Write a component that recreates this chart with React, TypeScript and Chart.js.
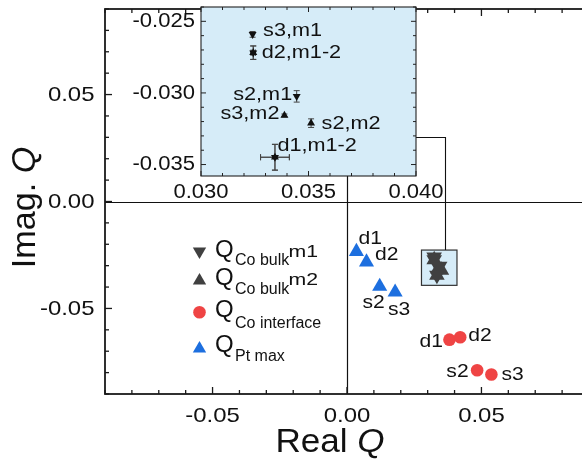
import React, { useEffect, useRef } from "react";
import { Chart, registerables } from "chart.js";

Chart.register(...registerables);

const FONT = '"Liberation Sans", Arial, Helvetica, sans-serif';

// ---------- data ----------
// Co bulk (inset) – samples in order
const bulkSamples = ["s3", "s2", "d2", "d1"];
const bulkM1Real = [0.0324, 0.03445, 0.03243, 0.03344];
const bulkM1Imag = [-0.02591, -0.03024, -0.02719, -0.03449];
const bulkM1RealErr = [0, 0, 0.0001, 0.00067];
const bulkM1ImagErr = [0.0002, 0.0004, 0.00047, 0.0009];
const bulkM2Real = [0.03388, 0.03512, 0.03243, 0.03344];
const bulkM2Imag = [-0.03157, -0.03211, -0.02719, -0.03449];
const bulkM2RealErr = [0, 0, 0.0001, 0.00067];
const bulkM2ImagErr = [0.0001, 0.0003, 0.00047, 0.0009];
const insetLabelsM1 = ["s3,m1", "s2,m1", "d2,m1-2", "d1,m1-2"];
const insetLabelsM2 = ["s3,m2", "s2,m2", "", ""];

// Pt max
const ptLabels = ["d1", "d2", "s2", "s3"];
const ptReal = [0.0035, 0.00725, 0.01216, 0.0179];
const ptImag = [-0.0234, -0.0283, -0.0397, -0.0424];

// Co interface
const ifaceLabels = ["d1", "d2", "s2", "s3"];
const ifaceReal = [0.0381, 0.0421, 0.0484, 0.0537];
const ifaceImag = [-0.0646, -0.0635, -0.0789, -0.0809];

// ticks
const mainTicks = [-0.05, 0, 0.05];
const mainTickLabels = ["-0.05", "0.00", "0.05"];
const insetXTicks = [0.03, 0.035, 0.04];
const insetXTickLabels = ["0.030", "0.035", "0.040"];
const insetYTicks = [-0.025, -0.03, -0.035];
const insetYTickLabels = ["-0.025", "-0.030", "-0.035"];

// legend
const legendSubs = ["Co bulk", "Co bulk", "Co interface", "Pt max"];
const legendSups = ["m1", "m2", "", ""];

// zoom box region in main axes and connector
const zoomBox = { x0: 0.0277, x1: 0.0409, y0: -0.0392, y1: -0.0227 };

// ---------- styles ----------
const GRAY = "#404040";
const RED = "#ef4444";
const BLUE = "#1d6fdf";
const INSET_BG = "#d6ecf8";
const AXIS = "#1a1a1a";

// label placement offsets (px) relative to points
const ptLabelPos: [number, number, "left" | "right" | "center"][] = [
  [2, -13, "left"],
  [8.5, -7, "left"],
  [-6, 16.5, "center"],
  [4, 18, "center"],
];
const ifaceLabelPos: [number, number, "left" | "right" | "center"][] = [
  [-6.5, 2, "right"],
  [8, -1.5, "left"],
  [-8.5, 2, "right"],
  [10, 0, "left"],
];
const insetM1Pos: [number, number, "left" | "right" | "center"][] = [
  [10.5, -3, "left"],
  [-4.5, -1.5, "right"],
  [8.5, 0, "left"],
  [2.5, -11, "left"],
];
const insetM2Pos: [number, number, "left" | "right" | "center"][] = [
  [-5, -1.5, "right"],
  [10.5, 1, "left"],
  [0, 0, "left"],
  [0, 0, "left"],
];

type Align = "left" | "right" | "center";

function drawRuns(
  ctx: CanvasRenderingContext2D,
  runs: { t: string; italic?: boolean }[],
  x: number,
  y: number,
  size: number,
  align: Align = "left",
  sx = 1,
  baseline: CanvasTextBaseline = "alphabetic",
  rot = 0,
  color = "#111"
) {
  ctx.save();
  ctx.textBaseline = baseline;
  ctx.textAlign = "left";
  ctx.fillStyle = color;
  const widths = runs.map((r) => {
    ctx.font = `${r.italic ? "italic " : ""}${size}px ${FONT}`;
    return ctx.measureText(r.t).width * sx;
  });
  const total = widths.reduce((a, b) => a + b, 0);
  const off = align === "right" ? -total : align === "center" ? -total / 2 : 0;
  ctx.translate(x, y);
  if (rot) ctx.rotate(rot);
  ctx.translate(off, 0);
  let cx = 0;
  runs.forEach((r, i) => {
    ctx.save();
    ctx.font = `${r.italic ? "italic " : ""}${size}px ${FONT}`;
    ctx.translate(cx, 0);
    ctx.scale(sx, 1);
    ctx.fillText(r.t, 0, 0);
    ctx.restore();
    cx += widths[i];
  });
  ctx.restore();
  return total;
}

function txt(
  ctx: CanvasRenderingContext2D,
  s: string,
  x: number,
  y: number,
  size: number,
  align: Align = "left",
  sx = 1,
  baseline: CanvasTextBaseline = "alphabetic"
) {
  return drawRuns(ctx, [{ t: s }], x, y, size, align, sx, baseline);
}

function tri(ctx: CanvasRenderingContext2D, x: number, y: number, r: number, down: boolean, color: string) {
  const s = down ? -1 : 1;
  ctx.beginPath();
  ctx.moveTo(x, y - s * r);
  ctx.lineTo(x + r * 0.866, y + (s * r) / 2);
  ctx.lineTo(x - r * 0.866, y + (s * r) / 2);
  ctx.closePath();
  ctx.fillStyle = color;
  ctx.fill();
}

function line(ctx: CanvasRenderingContext2D, x0: number, y0: number, x1: number, y1: number) {
  ctx.beginPath();
  ctx.moveTo(x0, y0);
  ctx.lineTo(x1, y1);
  ctx.stroke();
}

const pts = (xs: number[], ys: number[]) => xs.map((x, i) => ({ x, y: ys[i] }));

const mainPlugin = {
  id: "mainDecor",
  beforeDatasetsDraw(chart: any) {
    const ctx: CanvasRenderingContext2D = chart.ctx;
    const { left, right, top, bottom } = chart.chartArea;
    const xs = chart.scales.x;
    const ys = chart.scales.y;
    ctx.save();
    ctx.strokeStyle = "#111";
    ctx.lineWidth = 1.2;
    const x0 = Math.round(xs.getPixelForValue(0)) + 0.5;
    const y0 = Math.round(ys.getPixelForValue(0)) + 0.5;
    line(ctx, left, y0, right, y0);
    line(ctx, x0, top, x0, bottom);
    // zoom box
    const bx0 = xs.getPixelForValue(zoomBox.x0);
    const bx1 = xs.getPixelForValue(zoomBox.x1);
    const by0 = ys.getPixelForValue(zoomBox.y1);
    const by1 = ys.getPixelForValue(zoomBox.y0);
    ctx.fillStyle = INSET_BG;
    ctx.fillRect(bx0, by0, bx1 - bx0, by1 - by0);
    ctx.strokeStyle = "#333";
    ctx.lineWidth = 1.2;
    ctx.strokeRect(bx0, by0, bx1 - bx0, by1 - by0);
    // connector
    const cxp = Math.round(xs.getPixelForValue(0.0366)) + 0.5;
    const cyp = Math.round(ys.getPixelForValue(0.03)) + 0.5;
    const lx = xs.getPixelForValue(0.0255);
    ctx.strokeStyle = "#111";
    ctx.lineWidth = 1.1;
    ctx.beginPath();
    ctx.moveTo(lx, cyp);
    ctx.lineTo(cxp, cyp);
    ctx.lineTo(cxp, by0);
    ctx.stroke();
    ctx.restore();
  },
  afterDatasetsDraw(chart: any) {
    const ctx: CanvasRenderingContext2D = chart.ctx;
    const { left, right, top, bottom } = chart.chartArea;
    const xs = chart.scales.x;
    const ys = chart.scales.y;
    ctx.save();
    // frame
    ctx.strokeStyle = AXIS;
    ctx.lineWidth = 1.8;
    ctx.strokeRect(left, top, right - left, bottom - top);
    // ticks
    ctx.lineWidth = 1.3;
    for (let i = -9; i <= 9; i++) {
      const v = i / 100;
      const len = i % 5 === 0 ? 7 : 4;
      const px = xs.getPixelForValue(v);
      const py = ys.getPixelForValue(v);
      line(ctx, px, bottom, px, bottom - len);
      line(ctx, px, top, px, top + len);
      line(ctx, left, py, left + len, py);
      line(ctx, right, py, right - len, py);
    }
    // tick labels
    mainTicks.forEach((v, i) => {
      txt(ctx, mainTickLabels[i], xs.getPixelForValue(v), 421.5, 21, "center", 1.14);
      txt(ctx, mainTickLabels[i], 94.5, ys.getPixelForValue(v) + 0.5, 21, "right", 1.14, "middle");
    });
    // axis titles
    drawRuns(ctx, [{ t: "Real " }, { t: "Q", italic: true }], 330, 451.5, 32.5, "center", 1.08);
    drawRuns(ctx, [{ t: "Imag. " }, { t: "Q", italic: true }], 35, 207.5, 32.5, "center", 1.05, "alphabetic", -Math.PI / 2);
    // point labels
    ptLabels.forEach((l, i) => {
      const [dx, dy, al] = ptLabelPos[i];
      txt(ctx, l, xs.getPixelForValue(ptReal[i]) + dx, ys.getPixelForValue(ptImag[i]) + dy, 18.5, al, 1.14, "middle");
    });
    ifaceLabels.forEach((l, i) => {
      const [dx, dy, al] = ifaceLabelPos[i];
      txt(ctx, l, xs.getPixelForValue(ifaceReal[i]) + dx, ys.getPixelForValue(ifaceImag[i]) + dy, 18.5, al, 1.14, "middle");
    });
    // legend
    const mx = 199.5;
    const rows = [
      { cy: 251.4, qb: 256.7, sb: 264.7, draw: (y: number) => tri(ctx, mx, y, 7.7, true, GRAY) },
      { cy: 280.6, qb: 284.5, sb: 294, draw: (y: number) => tri(ctx, mx, y, 7.7, false, GRAY) },
      {
        cy: 312.3,
        qb: 316.7,
        sb: 328.3,
        draw: (y: number) => {
          ctx.beginPath();
          ctx.arc(mx, y, 6.3, 0, Math.PI * 2);
          ctx.fillStyle = RED;
          ctx.fill();
        },
      },
      { cy: 348.6, qb: 351.7, sb: 360.7, draw: (y: number) => tri(ctx, mx, y, 7.7, false, BLUE) },
    ];
    rows.forEach((r, i) => {
      r.draw(r.cy);
      txt(ctx, "Q", 215, r.qb, 24, "left", 1.0);
      txt(ctx, legendSubs[i], 235, r.sb, 16, "left", 1.0);
      if (legendSups[i]) txt(ctx, legendSups[i], 288.5, r.qb, 17, "left", 1.25);
    });
    ctx.restore();
  },
};

const IX = 130; // inset canvas offset in page px

const insetPlugin = {
  id: "insetDecor",
  beforeDraw(chart: any) {
    const ctx: CanvasRenderingContext2D = chart.ctx;
    const { left, right, top, bottom } = chart.chartArea;
    ctx.save();
    ctx.fillStyle = INSET_BG;
    ctx.fillRect(left, top, right - left, bottom - top);
    ctx.restore();
  },
  beforeDatasetsDraw(chart: any) {
    const ctx: CanvasRenderingContext2D = chart.ctx;
    const xs = chart.scales.x;
    const ys = chart.scales.y;
    ctx.save();
    ctx.strokeStyle = "#444";
    ctx.lineWidth = 1;
    const bars = (X: number[], Y: number[], XE: number[], YE: number[]) => {
      X.forEach((x, i) => {
        const px = xs.getPixelForValue(x);
        const py = ys.getPixelForValue(Y[i]);
        if (YE[i] > 0) {
          const a = ys.getPixelForValue(Y[i] + YE[i]);
          const b = ys.getPixelForValue(Y[i] - YE[i]);
          line(ctx, px, a, px, b);
          line(ctx, px - 3, a, px + 3, a);
          line(ctx, px - 3, b, px + 3, b);
        }
        if (XE[i] > 0) {
          const a = xs.getPixelForValue(x - XE[i]);
          const b = xs.getPixelForValue(x + XE[i]);
          line(ctx, a, py, b, py);
          line(ctx, a, py - 3, a, py + 3);
          line(ctx, b, py - 3, b, py + 3);
        }
      });
    };
    bars(bulkM1Real, bulkM1Imag, bulkM1RealErr, bulkM1ImagErr);
    bars(bulkM2Real, bulkM2Imag, bulkM2RealErr, bulkM2ImagErr);
    ctx.restore();
  },
  afterDatasetsDraw(chart: any) {
    const ctx: CanvasRenderingContext2D = chart.ctx;
    const { left, right, top, bottom } = chart.chartArea;
    const xs = chart.scales.x;
    const ys = chart.scales.y;
    ctx.save();
    ctx.strokeStyle = "#222";
    ctx.lineWidth = 1.1;
    ctx.strokeRect(left, top, right - left, bottom - top);
    ctx.lineWidth = 1;
    for (let i = 30; i <= 40; i++) {
      const px = xs.getPixelForValue(i / 1000);
      const len = i % 5 === 0 ? 5 : 3;
      line(ctx, px, bottom, px, bottom - len);
      line(ctx, px, top, px, top + len);
    }
    for (let i = 24; i <= 35; i++) {
      const py = ys.getPixelForValue(-i / 1000);
      const len = i % 5 === 0 ? 5 : 3;
      line(ctx, left, py, left + len, py);
      line(ctx, right, py, right - len, py);
    }
    insetXTicks.forEach((v, i) => txt(ctx, insetXTickLabels[i], xs.getPixelForValue(v), 198, 19.5, "center", 1.13));
    insetYTicks.forEach((v, i) =>
      txt(ctx, insetYTickLabels[i], 195 - IX, ys.getPixelForValue(v) + 0.5, 19.5, "right", 1.13, "middle")
    );
    insetLabelsM1.forEach((l, i) => {
      if (!l) return;
      const [dx, dy, al] = insetM1Pos[i];
      txt(ctx, l, xs.getPixelForValue(bulkM1Real[i]) + dx, ys.getPixelForValue(bulkM1Imag[i]) + dy, 18.5, al, 1.17, "middle");
    });
    insetLabelsM2.forEach((l, i) => {
      if (!l) return;
      const [dx, dy, al] = insetM2Pos[i];
      txt(ctx, l, xs.getPixelForValue(bulkM2Real[i]) + dx, ys.getPixelForValue(bulkM2Imag[i]) + dy, 18.5, al, 1.17, "middle");
    });
    ctx.restore();
  },
};

const hiddenScale = (min: number, max: number, fit: (s: any) => void) => ({
  type: "linear" as const,
  min,
  max,
  ticks: { display: false },
  grid: { display: false },
  border: { display: false },
  title: { display: false },
  afterFit: fit,
});

export default function App() {
  const mainRef = useRef<HTMLCanvasElement>(null);
  const insetRef = useRef<HTMLCanvasElement>(null);

  useEffect(() => {
    const main = new Chart(mainRef.current!, {
      type: "scatter",
      data: {
        datasets: [
          {
            label: "Co bulk m1",
            data: pts(bulkM1Real, bulkM1Imag),
            pointStyle: "triangle",
            pointRotation: 180,
            pointRadius: 9,
            pointBackgroundColor: GRAY,
            pointBorderWidth: 0,
          },
          {
            label: "Co bulk m2",
            data: pts(bulkM2Real, bulkM2Imag),
            pointStyle: "triangle",
            pointRadius: 9,
            pointBackgroundColor: GRAY,
            pointBorderWidth: 0,
          },
          {
            label: "Co interface",
            data: pts(ifaceReal, ifaceImag),
            pointStyle: "circle",
            pointRadius: 6.3,
            pointBackgroundColor: RED,
            pointBorderWidth: 0,
          },
          {
            label: "Pt max",
            data: pts(ptReal, ptImag),
            pointStyle: "triangle",
            pointRadius: 8.7,
            pointBackgroundColor: BLUE,
            pointBorderWidth: 0,
          },
        ],
      } as any,
      options: {
        animation: false,
        responsive: false,
        events: [],
        layout: { padding: { left: 0, top: 4, right: 11, bottom: 0 } },
        plugins: { legend: { display: false }, tooltip: { enabled: false } },
        scales: {
          x: hiddenScale(-0.09, 0.09, (s: any) => {
            s.height = 69;
          }),
          y: hiddenScale(-0.09, 0.09, (s: any) => {
            s.width = 105;
          }),
        },
      } as any,
      plugins: [mainPlugin],
    });

    const inset = new Chart(insetRef.current!, {
      type: "scatter",
      data: {
        datasets: [
          {
            label: "m1",
            data: pts(bulkM1Real, bulkM1Imag),
            pointStyle: "triangle",
            pointRotation: 180,
            pointRadius: 4.6,
            pointBackgroundColor: "#111",
            pointBorderWidth: 0,
          },
          {
            label: "m2",
            data: pts(bulkM2Real, bulkM2Imag),
            pointStyle: "triangle",
            pointRadius: 4.6,
            pointBackgroundColor: "#111",
            pointBorderWidth: 0,
          },
        ],
      } as any,
      options: {
        animation: false,
        responsive: false,
        events: [],
        layout: { padding: { left: 0, top: 7, right: 44, bottom: 0 } },
        plugins: { legend: { display: false }, tooltip: { enabled: false } },
        scales: {
          x: hiddenScale(0.03, 0.04, (s: any) => {
            s.height = 34;
          }),
          y: hiddenScale(-0.0358, -0.024, (s: any) => {
            s.width = 71;
          }),
        },
      } as any,
      plugins: [insetPlugin],
    });

    return () => {
      main.destroy();
      inset.destroy();
    };
  }, []);

  return (
    <div
      style={{
        position: "fixed",
        left: 0,
        top: 0,
        width: 582,
        height: 463,
        overflow: "hidden",
        background: "#fff",
      }}
    >
      <canvas ref={mainRef} width={600} height={463} style={{ position: "absolute", left: 0, top: 0 }} />
      <canvas ref={insetRef} width={330} height={210} style={{ position: "absolute", left: IX, top: 0 }} />
    </div>
  );
}
